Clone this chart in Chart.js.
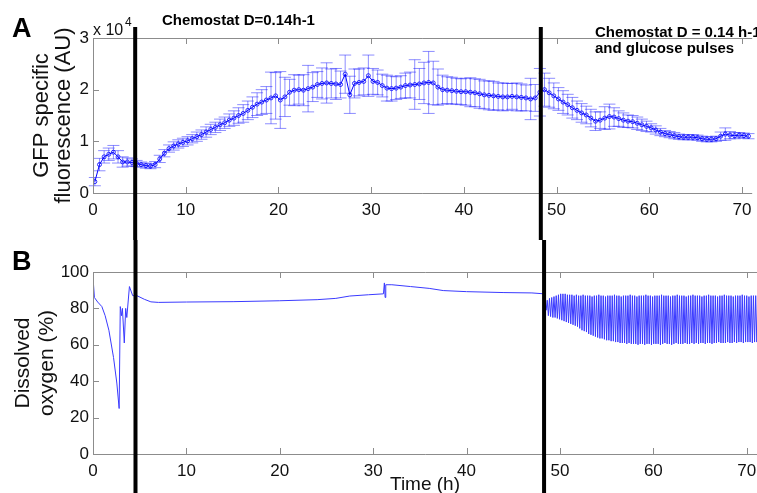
<!DOCTYPE html>
<html>
<head>
<meta charset="utf-8">
<script src="https://cdn.jsdelivr.net/npm/chart.js@4.4.1/dist/chart.umd.min.js"></script>
<style>
html, body { margin: 0; padding: 0; background: #fff; overflow: hidden; }
body { width: 757px; height: 493px; position: relative; font-family: "Liberation Sans", Arial, Helvetica, sans-serif; }
canvas { position: absolute; left: 0; }
#chartA { top: 0; }
#chartB { top: 240px; }
.lbl { position: absolute; color: #000; white-space: nowrap; }
.panel { font-size: 27px; font-weight: bold; line-height: 30px; }
.note { font-size: 15px; font-weight: bold; line-height: 16px; }
</style>
</head>
<body>
<canvas id="chartA" width="757" height="240"></canvas>
<canvas id="chartB" width="757" height="253"></canvas>
<div class="lbl panel" style="left:12px;top:13px">A</div>
<div class="lbl panel" style="left:12px;top:246px">B</div>
<div class="lbl" style="left:93px;top:21px;font-size:16px;line-height:18px;color:#111">x 10</div>
<div class="lbl" style="left:125px;top:15px;font-size:12px;line-height:14px;color:#111">4</div>
<div class="lbl note" style="left:162px;top:12px">Chemostat D=0.14h-1</div>
<div class="lbl note" style="left:595px;top:24px">Chemostat D = 0.14 h-1<br>and glucose pulses</div>
<script>
const FONT = '"Liberation Sans", Arial, Helvetica, sans-serif';

// shared x axis (h)
const xMax = 71.1;
const xTicks = [0, 10, 20, 30, 40, 50, 60, 70];
// switch times (h): batch -> chemostat -> chemostat + pulses
const phaseTimes = [4.55, 48.3];

// panel A: GFP specific fluorescence, in units of 10^4 AU, sampled every 0.5 h from 0.2 h
const gfpStart = 0.2;
const gfpStep = 0.5;
const gfpMean = [
  0.22, 0.55, 0.70, 0.75, 0.79, 0.70, 0.60, 0.60, 0.59, 0.57,
  0.55, 0.53, 0.52, 0.55, 0.66, 0.77, 0.86, 0.91, 0.95, 0.98,
  1.01, 1.05, 1.09, 1.13, 1.18, 1.23, 1.27, 1.32, 1.36, 1.41,
  1.45, 1.50, 1.54, 1.60, 1.66, 1.72, 1.76, 1.80, 1.84, 1.88,
  1.80, 1.86, 1.95, 1.99, 2.00, 1.99, 2.02, 2.05, 2.10, 2.12,
  2.13, 2.12, 2.11, 2.10, 2.30, 1.90, 2.12, 2.14, 2.16, 2.27,
  2.16, 2.14, 2.08, 2.03, 2.02, 2.03, 2.05, 2.08, 2.09, 2.10,
  2.11, 2.13, 2.14, 2.13, 2.05, 2.00, 1.99, 1.98, 1.97, 1.96,
  1.96, 1.95, 1.94, 1.92, 1.90, 1.89, 1.88, 1.87, 1.86, 1.86,
  1.87, 1.86, 1.85, 1.84, 1.82, 1.84, 1.95, 2.00, 1.94, 1.88,
  1.82, 1.76, 1.71, 1.65, 1.60, 1.55, 1.51, 1.45, 1.39, 1.41,
  1.45, 1.48, 1.47, 1.44, 1.41, 1.39, 1.38, 1.35, 1.32, 1.29,
  1.26, 1.22, 1.18, 1.15, 1.13, 1.11, 1.09, 1.08, 1.08, 1.08,
  1.07, 1.05, 1.04, 1.04, 1.05, 1.10, 1.14, 1.12, 1.11, 1.12,
  1.11, 1.10
];
const gfpErr = [
  0.08, 0.12, 0.12, 0.12, 0.13, 0.12, 0.10, 0.08, 0.07, 0.06,
  0.05, 0.05, 0.05, 0.06, 0.07, 0.07, 0.07, 0.08, 0.08, 0.08,
  0.08, 0.08, 0.09, 0.09, 0.10, 0.10, 0.10, 0.11, 0.11, 0.12,
  0.14, 0.15, 0.17, 0.18, 0.20, 0.22, 0.24, 0.26, 0.50, 0.45,
  0.55, 0.38, 0.25, 0.30, 0.28, 0.30, 0.45, 0.28, 0.25, 0.30,
  0.39, 0.28, 0.30, 0.26, 0.37, 0.36, 0.28, 0.26, 0.26, 0.40,
  0.25, 0.24, 0.22, 0.25, 0.24, 0.22, 0.22, 0.24, 0.25, 0.48,
  0.30, 0.40, 0.60, 0.42, 0.35, 0.28, 0.26, 0.26, 0.25, 0.25,
  0.26, 0.28, 0.27, 0.28, 0.27, 0.28, 0.28, 0.26, 0.27, 0.26,
  0.25, 0.27, 0.26, 0.25, 0.40, 0.26, 0.46, 0.32, 0.28, 0.25,
  0.22, 0.22, 0.20, 0.20, 0.18, 0.18, 0.17, 0.17, 0.18, 0.16,
  0.22, 0.24, 0.18, 0.15, 0.14, 0.12, 0.12, 0.12, 0.11, 0.10,
  0.08, 0.08, 0.07, 0.06, 0.06, 0.06, 0.05, 0.05, 0.05, 0.05,
  0.05, 0.05, 0.05, 0.05, 0.05, 0.08, 0.12, 0.07, 0.06, 0.05,
  0.05, 0.05
];
const gfpTime = gfpMean.map((_, i) => gfpStart + i * gfpStep);

// panel B: dissolved oxygen (%) before the pulses
const doTime = [0, 0.15, 0.5, 0.95, 1.3, 1.7, 2.2, 2.55, 2.8, 2.92, 3.05, 3.15, 3.35, 3.5, 3.62, 3.9,
  4.25, 4.7, 5.5, 6.2, 7, 10, 15, 20, 24, 26, 27.5, 29.5, 31.1, 31.2, 31.28, 31.35, 32, 34, 36, 37.5,
  40, 44, 47, 48.3];
const doValue = [97, 86, 83.5, 81, 76, 68, 53, 39, 25, 81, 76, 80, 61, 80, 75, 92,
  87, 87, 85, 83.6, 83.3, 83.5, 83.7, 84.2, 84.8, 85.5, 86.8, 87.5, 88, 94, 86, 93, 93, 92, 91, 89.8,
  89.2, 88.7, 88.5, 88];

// glucose pulses: one peak and one trough per pulse, a pulse every 0.24 h from 48.4 h
const pulseStart = 48.4;
const pulseStep = 0.24;
const pulseHigh = [
  83, 84.5, 85.5, 86, 86.5, 87, 87.5, 88, 88, 88,
  87.5, 87.5, 87.5, 87, 87.5, 87, 87, 87.5, 87, 87,
  87, 86.5, 87, 87, 87.5, 87, 87, 86.5, 87, 87,
  87, 87.5, 87, 87, 86.5, 87, 87, 87, 87.5, 87,
  87, 86.5, 87, 87, 87, 87.5, 87, 87, 86.5, 87,
  87, 87, 87.5, 87, 87, 87, 86.5, 87, 87, 87.5,
  87, 87, 87, 86.5, 87, 87, 87.5, 87, 87, 87,
  86.5, 87, 87, 87.5, 87, 87, 87, 86.5, 87, 87,
  87.5, 87, 87, 87, 86.5, 87, 87, 87, 87.5, 87,
  87, 86.5, 87, 87, 87, 87
];
const pulseLow = [
  79, 76, 75.5, 75, 75, 74.5, 74, 73.5, 73, 72.5,
  72, 71.5, 71, 70.5, 70, 69, 68, 67.5, 67, 66,
  65.5, 65, 64.5, 64, 63.5, 63.5, 63, 62.5, 62.5, 62,
  62, 61.5, 61.5, 61, 61, 61, 60.5, 61, 60.5, 60.5,
  60.5, 60, 60.5, 60.5, 60, 60.5, 60.5, 60, 60.5, 60.5,
  60.5, 60, 60.5, 61, 60.5, 60.5, 60, 60.5, 61, 60.5,
  60.5, 60.5, 61, 60.5, 60.5, 61, 60.5, 61, 60.5, 61,
  61, 60.5, 61, 61, 60.5, 61, 61, 61.5, 61, 61,
  61, 61.5, 61, 61, 61.5, 61, 61.5, 61.5, 61, 61.5,
  61.5, 61.5, 61, 61.5, 61.5, 61.5
];

const pulsePoints = [];
pulseHigh.forEach((h, i) => {
  const t = pulseStart + i * pulseStep;
  pulsePoints.push({ x: t, y: h });
  pulsePoints.push({ x: t + pulseStep / 2, y: pulseLow[i] });
});

const errorBars = {
  id: 'errorBars',
  beforeDatasetsDraw(chart) {
    const { ctx, scales: { x, y } } = chart;
    ctx.save();
    ctx.strokeStyle = 'rgba(30,30,255,0.5)';
    ctx.lineWidth = 1;
    ctx.beginPath();
    gfpMean.forEach((m, i) => {
      const px = x.getPixelForValue(gfpTime[i]);
      const top = y.getPixelForValue(m + gfpErr[i]);
      const bot = y.getPixelForValue(m - gfpErr[i]);
      ctx.moveTo(px, top); ctx.lineTo(px, bot);
      ctx.moveTo(px - 6, top); ctx.lineTo(px + 6, top);
      ctx.moveTo(px - 6, bot); ctx.lineTo(px + 6, bot);
    });
    ctx.stroke();
    ctx.restore();
  }
};

// matlab style box with inward ticks, plus the thick phase lines
const frame = {
  id: 'frame',
  afterDraw(chart, args, opts) {
    const { ctx, chartArea: a, scales: { x, y } } = chart;
    ctx.save();
    ctx.strokeStyle = '#8c8c8c';
    ctx.lineWidth = 1;
    ctx.beginPath();
    ctx.moveTo(a.right, a.top + 0.5);
    ctx.lineTo(a.left + 0.5, a.top + 0.5);
    ctx.lineTo(a.left + 0.5, a.bottom + 0.5);
    ctx.lineTo(a.right, a.bottom + 0.5);
    x.ticks.forEach(t => {
      const px = Math.round(x.getPixelForValue(t.value)) + 0.5;
      ctx.moveTo(px, a.top); ctx.lineTo(px, a.top + 6);
      ctx.moveTo(px, a.bottom); ctx.lineTo(px, a.bottom - 6);
    });
    y.ticks.forEach(t => {
      const py = Math.round(y.getPixelForValue(t.value)) + 0.5;
      ctx.moveTo(a.left, py); ctx.lineTo(a.left + 6, py);
    });
    ctx.stroke();

    ctx.strokeStyle = '#000';
    ctx.lineWidth = 4;
    ctx.beginPath();
    phaseTimes.forEach(t => {
      const px = x.getPixelForValue(t);
      ctx.moveTo(px, opts.lineTop);
      ctx.lineTo(px, chart.height);
    });
    ctx.stroke();
    ctx.restore();
  }
};

function xAxis(height, title) {
  return {
    type: 'linear',
    min: 0,
    max: xMax,
    afterBuildTicks: s => { s.ticks = xTicks.map(v => ({ value: v })); },
    afterFit: s => { s.height = height; s.paddingLeft = 0; s.paddingRight = 0; },
    grid: { display: false, drawTicks: false },
    border: { display: false },
    ticks: { padding: 7, color: '#111', maxRotation: 0, autoSkip: false, font: { family: FONT, size: 17 } },
    title: title ? { display: true, text: title, color: '#111', padding: 0, font: { family: FONT, size: 19, lineHeight: 0.9 } } : { display: false }
  };
}

function yAxis(max, ticks, title, size, lh, padTop) {
  return {
    min: 0,
    max: max,
    afterBuildTicks: s => { s.ticks = ticks.map(v => ({ value: v })); },
    afterFit: s => { s.width = 93; s.paddingTop = 0; s.paddingBottom = 0; },
    grid: { display: false, drawTicks: false },
    border: { display: false },
    ticks: { padding: 4, color: '#111', font: { family: FONT, size: 17 } },
    title: { display: true, text: title, color: '#111', padding: { top: padTop, bottom: 0 }, font: { family: FONT, size: size, lineHeight: lh } }
  };
}

new Chart(document.getElementById('chartA'), {
  type: 'line',
  data: {
    datasets: [{
      data: gfpTime.map((t, i) => ({ x: t, y: gfpMean[i] })),
      borderColor: '#0000ff',
      borderWidth: 1,
      pointRadius: 2,
      pointBorderWidth: 0.8,
      pointBorderColor: '#0000ff',
      pointBackgroundColor: 'rgba(0,0,0,0)',
      tension: 0
    }]
  },
  options: {
    responsive: false,
    animation: false,
    layout: { padding: { top: 38, left: 0, right: 0, bottom: 0 } },
    scales: {
      x: xAxis(47, null),
      y: yAxis(3, [0, 1, 2, 3], ['GFP specific', 'fluorescence (AU)'], 22, 1.0, 31)
    },
    plugins: { legend: { display: false }, tooltip: { enabled: false }, frame: { lineTop: 27 } }
  },
  plugins: [errorBars, frame]
});

new Chart(document.getElementById('chartB'), {
  type: 'line',
  data: {
    datasets: [{
      data: doTime.map((t, i) => ({ x: t, y: doValue[i] })),
      borderColor: '#3a3aff',
      borderWidth: 1,
      pointRadius: 0,
      tension: 0
    }, {
      data: pulsePoints,
      borderColor: '#3a3aff',
      borderWidth: 1,
      pointRadius: 0,
      tension: 0
    }]
  },
  options: {
    responsive: false,
    animation: false,
    layout: { padding: { top: 32, left: 0, right: 0, bottom: 0 } },
    scales: {
      x: xAxis(39, 'Time (h)'),
      y: yAxis(100, [0, 20, 40, 60, 80, 100], ['Dissolved', 'oxygen (%)'], 21, 1.15, 11)
    },
    plugins: { legend: { display: false }, tooltip: { enabled: false }, frame: { lineTop: 0 } }
  },
  plugins: [frame]
});
</script>
</body>
</html>
